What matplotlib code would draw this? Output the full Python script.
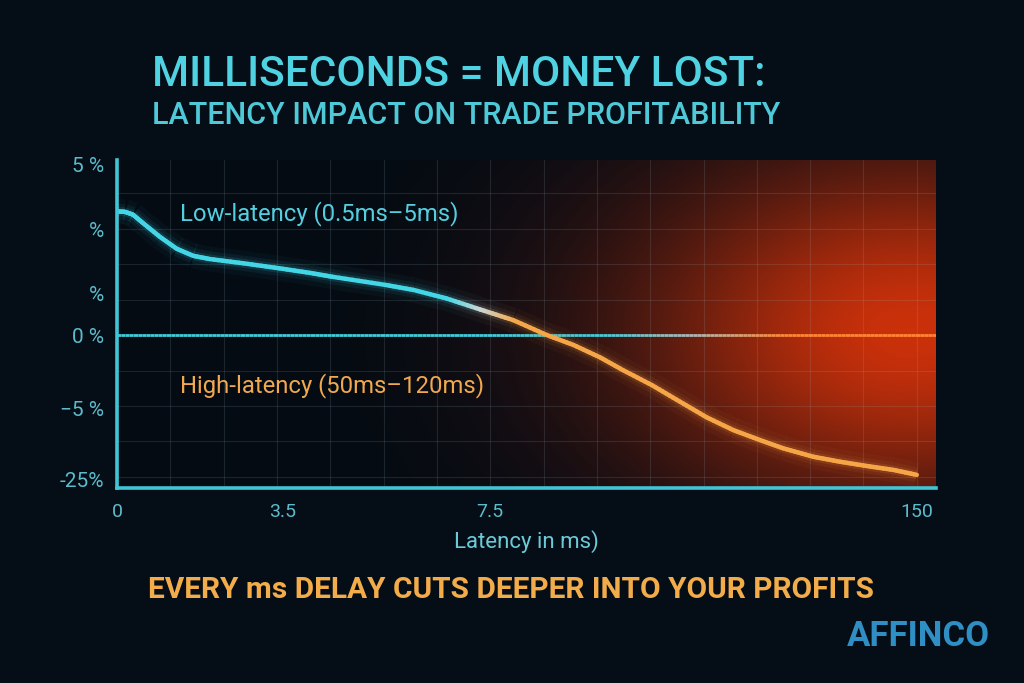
import numpy as np
import matplotlib
matplotlib.use("Agg")
import matplotlib.pyplot as plt
from matplotlib.collections import LineCollection

# data (x and y in grid units of the chart)
latency_pos = [0, 0.15, 0.30, 0.49, 0.81, 1.12, 1.43, 1.74, 2.37, 3.04, 3.62, 4.04, 5.04,
               5.56, 6.18, 6.81, 7.43, 8.06, 8.56, 9.06, 9.49, 10.03, 10.56, 11.06,
               11.56, 12.06, 12.49, 13.06, 13.56, 14.06, 14.56, 15.0]
profit_pos = [3.48, 3.47, 3.39, 3.15, 2.76, 2.43, 2.23, 2.14, 2.02, 1.88, 1.75, 1.64, 1.41,
              1.27, 1.03, 0.72, 0.42, 0.00, -0.28, -0.63, -0.99, -1.41, -1.88, -2.32,
              -2.68, -2.96, -3.19, -3.43, -3.57, -3.69, -3.80, -3.94]

x_tick_pos = [0, 3.1, 7.0, 15]
x_tick_labels = ["0", "3.5", "7.5", "150"]
y_tick_pos = [4.79, 2.96, 1.18, 0, -2.06, -4.08]
y_tick_labels = ["5 %", "%", "%", "0 %", "\u22125 %", "-25%"]

title = "MILLISECONDS = MONEY LOST:"
subtitle = "LATENCY IMPACT ON TRADE PROFITABILITY"
low_label = "Low-latency (0.5ms\u20135ms)"
high_label = "High-latency (50ms\u2013120ms)"
xlabel = "Latency in ms)"
footer = "EVERY ms DELAY CUTS DEEPER INTO YOUR PROFITS"
brand = "AFFINCO"

# colours
bg = "#050d16"
cyan = np.array([0.26, 0.84, 0.90])
pale = np.array([0.80, 0.84, 0.82])
orange = np.array([0.97, 0.65, 0.28])
red_orange = np.array([1.0, 0.52, 0.20])

plt.rcParams['font.family'] = ['Roboto', 'DejaVu Sans']

XMAX, YMIN, YMAX = 15.36, -4.31, 4.93

fig = plt.figure(figsize=(10.24, 6.83), dpi=100, facecolor=bg)
ax = fig.add_axes([117/1024, (683-488)/683, (936-117)/1024, (488-160)/683])
ax.set_facecolor("#040b13")
ax.set_xlim(0, XMAX)
ax.set_ylim(YMIN, YMAX)

# red glow on the right side
gx = np.linspace(0, XMAX, 500)
gy = np.linspace(YMIN, YMAX, 300)
GX, GY = np.meshgrid(gx, gy)
d2 = ((GX - 14.9) / 6.4) ** 2 + ((GY - 0.1) / 6.2) ** 2
alpha = 0.95 * np.exp(-1.6 * d2)
glow = np.zeros(GX.shape + (4,))
glow[..., 0] = 0.84
glow[..., 1] = 0.20
glow[..., 2] = 0.04
glow[..., 3] = alpha
ax.imshow(glow, extent=[0, XMAX, YMIN, YMAX], origin="lower", aspect="auto",
          interpolation="bilinear", zorder=0)

# grid
for gxl in range(1, 16):
    ax.axvline(gxl, color="#9fbfd0", alpha=0.14, lw=0.8, zorder=1)
for gyl in [-4, -3, -2, -1, 1, 2, 3, 4]:
    ax.axhline(gyl, color="#9fbfd0", alpha=0.14, lw=0.8, zorder=1)


def blend(t, c0, c1, c2):
    t = np.clip(t, 0, 1)
    out = []
    for v in t:
        if v < 0.5:
            out.append(c0 + (c1 - c0) * (v / 0.5))
        else:
            out.append(c1 + (c2 - c1) * ((v - 0.5) / 0.5))
    return np.array(out)


# zero line with cyan -> orange gradient
zx = np.linspace(0, XMAX, 200)
zseg = [[(zx[i], 0), (zx[i + 1], 0)] for i in range(len(zx) - 1)]
zmid = (zx[:-1] + zx[1:]) / 2
zcol = blend((zmid - 9.0) / 3.6, cyan * 0.95, pale * 0.85, red_orange)
ax.add_collection(LineCollection(zseg, colors=zcol, linewidths=2.0, zorder=2))

# curve, drawn as short pieces so its colour can shift
xs = np.array(latency_pos)
ys = np.array(profit_pos)
segs, mids = [], []
for i in range(len(xs) - 1):
    for k in range(8):
        a, b = k / 8, (k + 1) / 8
        p0 = (xs[i] + (xs[i + 1] - xs[i]) * a, ys[i] + (ys[i + 1] - ys[i]) * a)
        p1 = (xs[i] + (xs[i + 1] - xs[i]) * b, ys[i] + (ys[i + 1] - ys[i]) * b)
        segs.append([p0, p1])
        mids.append((p0[0] + p1[0]) / 2)
mids = np.array(mids)
cols = blend((mids - 6.2) / 1.3, cyan, pale, orange)

# soft glow under the line
for lw, al in [(18, 0.04), (11, 0.07), (6.5, 0.13)]:
    gc = np.column_stack([cols, np.full(len(cols), al)])
    ax.add_collection(LineCollection(segs, colors=gc, linewidths=lw,
                                     capstyle="butt", zorder=3))
ax.add_collection(LineCollection(segs, colors=cols, linewidths=3.2,
                                 capstyle="round", joinstyle="round", zorder=4))

# axes styling
for s in ["top", "right"]:
    ax.spines[s].set_visible(False)
for s in ["left", "bottom"]:
    ax.spines[s].set_color("#41c5d6")
    ax.spines[s].set_linewidth(2.6)
    ax.spines[s].set_zorder(5)

ax.set_xticks(x_tick_pos)
ax.set_xticklabels(x_tick_labels)
ax.set_yticks(y_tick_pos)
ax.set_yticklabels(y_tick_labels)
ax.tick_params(axis="both", length=0, colors="#5cbccb")
ax.tick_params(axis="x", pad=11, labelsize=14)
ax.tick_params(axis="y", pad=9, labelsize=15)

# labels inside the plot
ax.text(1.18, 3.42, low_label, color="#55cfe0", fontsize=17.2, va="center", ha="left", zorder=6)
ax.text(1.18, -1.41, high_label, color="#f1a84e", fontsize=17.2, va="center", ha="left", zorder=6)

# figure texts
fig.text(152/1024, 1 - 75/683, title, color="#4fd3e2", fontsize=30.5,
         fontweight="medium", ha="left", va="center")
fig.text(152/1024, 1 - 116/683, subtitle, color="#4fc9d8", fontsize=22,
         fontweight="medium", ha="left", va="center")
fig.text(526/1024, 1 - 542/683, xlabel, color="#6ccad8", fontsize=16,
         ha="center", va="center")
fig.text(148/1024, 1 - 590/683, footer, color="#f2ac4a", fontsize=21.5,
         fontweight="bold", ha="left", va="center")
fig.text(990/1024, 1 - 637/683, brand, color="#2f8fc4", fontsize=25,
         fontweight="bold", ha="right", va="center")

fig.savefig("out.png", dpi=100, facecolor=bg)
